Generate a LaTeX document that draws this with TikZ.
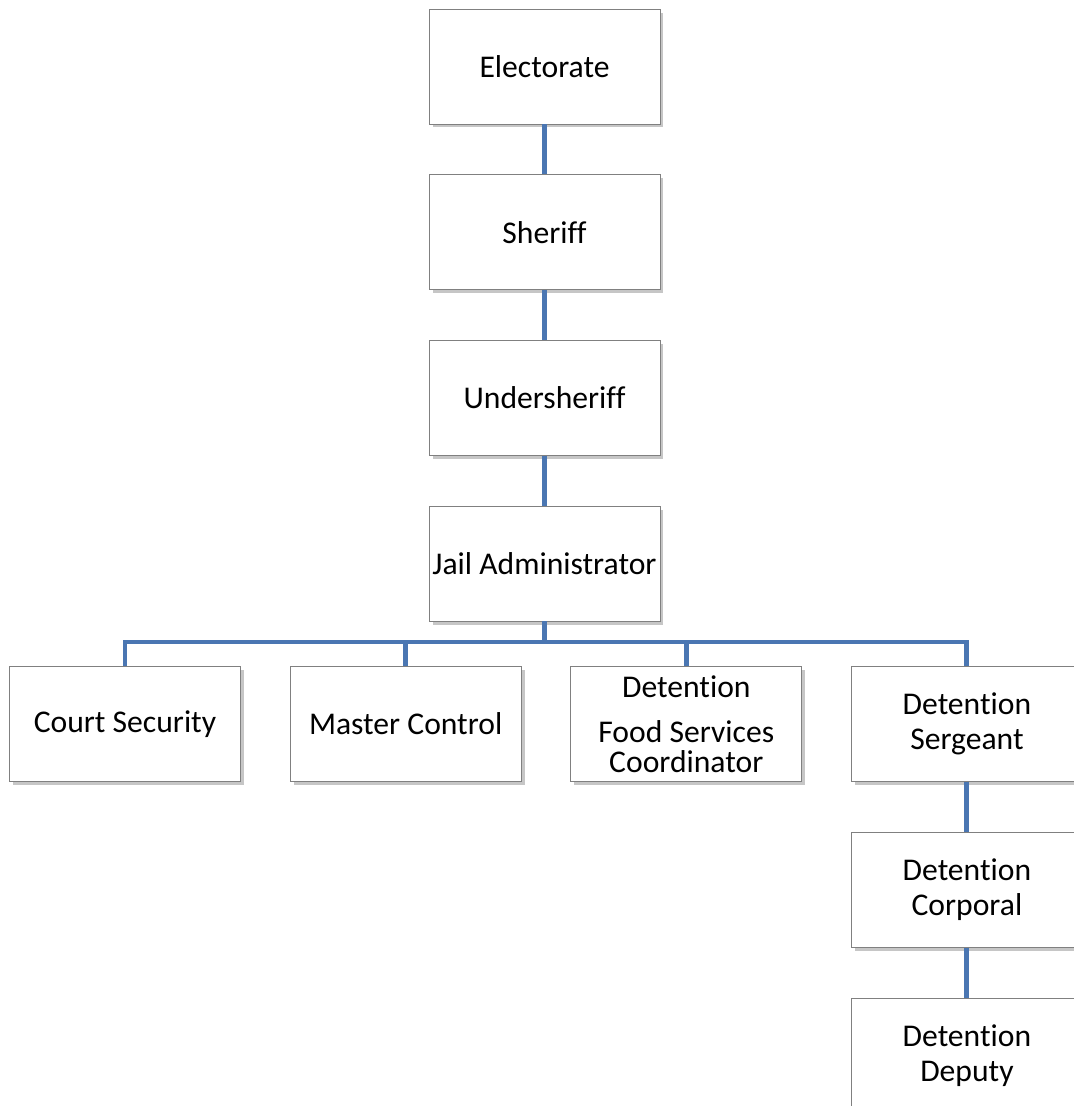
\documentclass[tikz,border=0pt]{standalone}
\usepackage{fontspec}
\setmainfont{Carlito}[Ligatures={NoCommon,NoRequired,NoContextual}]
\usetikzlibrary{positioning,shadows}
\definecolor{linkblue}{RGB}{74,118,178}
\definecolor{edgegray}{RGB}{128,128,128}

\begin{document}
\begin{tikzpicture}[x  = {(0.02cm,0cm)},
  y  = {(0cm,-0.02cm)},
  node distance = 1cm and 0.98cm,
  post/.style = {draw=edgegray, fill=white, minimum width=4.62cm,
    minimum height=2.3cm, inner sep=0pt, align=center,
    font=\fontsize{18}{20}\selectfont,
    drop shadow={shadow xshift=0.07cm, shadow yshift=-0.07cm, opacity=0.45}},
  link/.style = {draw=linkblue, line width=2.8pt}]

  \useasboundingbox (0,0) rectangle (1073,1106);

  \def\topx{544.5}
  \def\topy{66.5}
  \def\busy{642}

  % chain of command
  \node[post] (elec) at (\topx,\topy) {Electorate};
  \node[post, below=of elec] (sher) {Sheriff};
  \node[post, below=of sher] (under) {Undersheriff};
  \node[post, below=of under] (jail) {Jail Administrator};

  % jail units
  \node[post] (court) at (125,724) {Court Security};
  \node[post, right=of court] (master) {Master Control};
  \node[post, right=of master] (food) {Detention\\[6pt]Food Services\\[-3pt]Coordinator};
  \node[post, right=of food] (serg) {Detention\\Sergeant};
  \node[post, below=of serg] (corp) {Detention\\Corporal};
  \node[post, below=of corp] (dep) {Detention\\Deputy};

  \coordinate (bus) at (\topx,\busy);

  % lines
  \draw[link] (elec) -- (sher);
  \draw[link] (sher) -- (under);
  \draw[link] (under) -- (jail);
  \draw[link] (jail) -- (bus);
  \foreach \n in {court,master,food,serg}
  \draw[link] (\n.north) |- (bus);
  \draw[link] (serg) -- (corp);
  \draw[link] (corp) -- (dep);
\end{tikzpicture}
\end{document}
